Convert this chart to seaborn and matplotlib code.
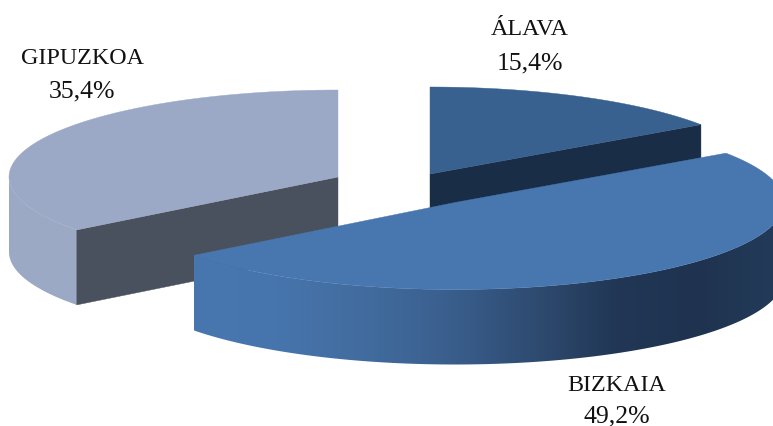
import numpy as np
import matplotlib
matplotlib.use("Agg")
import matplotlib.pyplot as plt
from matplotlib.patches import Polygon
import seaborn as sns

# ── Data ──────────────────────────────────────────────────────────────────────
provinces = ["ÁLAVA", "BIZKAIA", "GIPUZKOA"]
shares    = [15.4, 49.2, 35.4]
share_txt = ["15,4%", "49,2%", "35,4%"]

# ── Look ──────────────────────────────────────────────────────────────────────
sns.set_theme(style="white")
plt.rcParams["font.family"] = ["Liberation Serif", "DejaVu Serif"]

RX, RY, DEPTH = 329, 87, 75
APEX      = {"ÁLAVA": (430, 175), "BIZKAIA": (455, 203.5), "GIPUZKOA": (338, 178)}
TOP_COL   = {"ÁLAVA": "#38618f", "BIZKAIA": "#4877b0", "GIPUZKOA": "#9ca9c6"}
WALL_COL  = {"ÁLAVA": "#1a2d47", "BIZKAIA": None, "GIPUZKOA": "#4a515e"}
WALL_END  = {"ÁLAVA": -1, "BIZKAIA": None, "GIPUZKOA": 0}   # which cut faces the viewer
Z_BASE    = {"GIPUZKOA": 1, "ÁLAVA": 4, "BIZKAIA": 7}
SIDE_COLS = {
    "BIZKAIA":  ["#4877b0", "#4674ac", "#426c9f", "#3a5f8e", "#2f4c72", "#213755", "#1f3350", "#233c5a"],
    "GIPUZKOA": ["#9ca9c5", "#9ca9c6"],
}
LABEL_X    = {"ÁLAVA": 530, "BIZKAIA": 616.5, "GIPUZKOA": 82}
BASELINES  = {"ÁLAVA": (35, 69), "BIZKAIA": (391, 422), "GIPUZKOA": (64, 97)}


def rim(name, ang):
    # ang in degrees, clockwise from 12 o'clock
    cx, cy = APEX[name]
    a = np.radians(ang)
    return np.column_stack([cx + RX * np.sin(a), cy - RY * np.cos(a)])


fig = plt.figure(figsize=(7.73, 4.27), dpi=100, facecolor="white")
ax = fig.add_axes([0, 0, 1, 1])

edges = np.cumsum([0] + shares) / sum(shares) * 360

# back to front, Bizkaia sits in front of the other two
for name in ["GIPUZKOA", "ÁLAVA", "BIZKAIA"]:
    i = provinces.index(name)
    a0, a1 = edges[i], edges[i + 1]
    arc = rim(name, np.linspace(a0, a1, 300))
    apex = np.array(APEX[name])
    drop = np.array([0, DEPTH])
    z = Z_BASE[name]

    # outer rim, only the front half of the ellipse can be seen
    f0, f1 = max(a0, 90), min(a1, 270)
    if f0 < f1:
        front = rim(name, np.linspace(f0, f1, 300))
        side = Polygon(np.vstack([front, front[::-1] + drop]), closed=True, fc="none", ec="none")
        ax.add_patch(side)
        x0, x1 = front[:, 0].min(), front[:, 0].max()
        grad = np.array(sns.blend_palette(SIDE_COLS[name], 256))[:, :3][None, :, :]
        im = ax.imshow(grad, extent=(x0, x1, apex[1] + 200, apex[1] - 200), aspect="auto",
                       interpolation="bilinear", zorder=z)
        im.set_clip_path(side)

    # cut wall facing the viewer
    if WALL_END[name] is not None:
        end = arc[WALL_END[name]]
        ax.add_patch(Polygon([apex, end, end + drop, apex + drop], closed=True,
                             fc=WALL_COL[name], ec=WALL_COL[name], lw=0.3, zorder=z + 1))

    # top face
    ax.add_patch(Polygon(np.vstack([apex, arc]), closed=True, fc=TOP_COL[name],
                         ec=TOP_COL[name], lw=0.3, zorder=z + 2))

ax.set_xlim(0, 773)
ax.set_ylim(427, 0)
ax.axis("off")

for name, pct in zip(provinces, share_txt):
    y0, y1 = BASELINES[name]
    ax.text(LABEL_X[name], y0, name, ha="center", va="baseline", fontsize=17.3,
            color="#111111", zorder=20)
    ax.text(LABEL_X[name], y1, pct, ha="center", va="baseline", fontsize=18.5,
            color="#111111", zorder=20)

fig.savefig("out.png", dpi=100, facecolor="white")
plt.close(fig)
